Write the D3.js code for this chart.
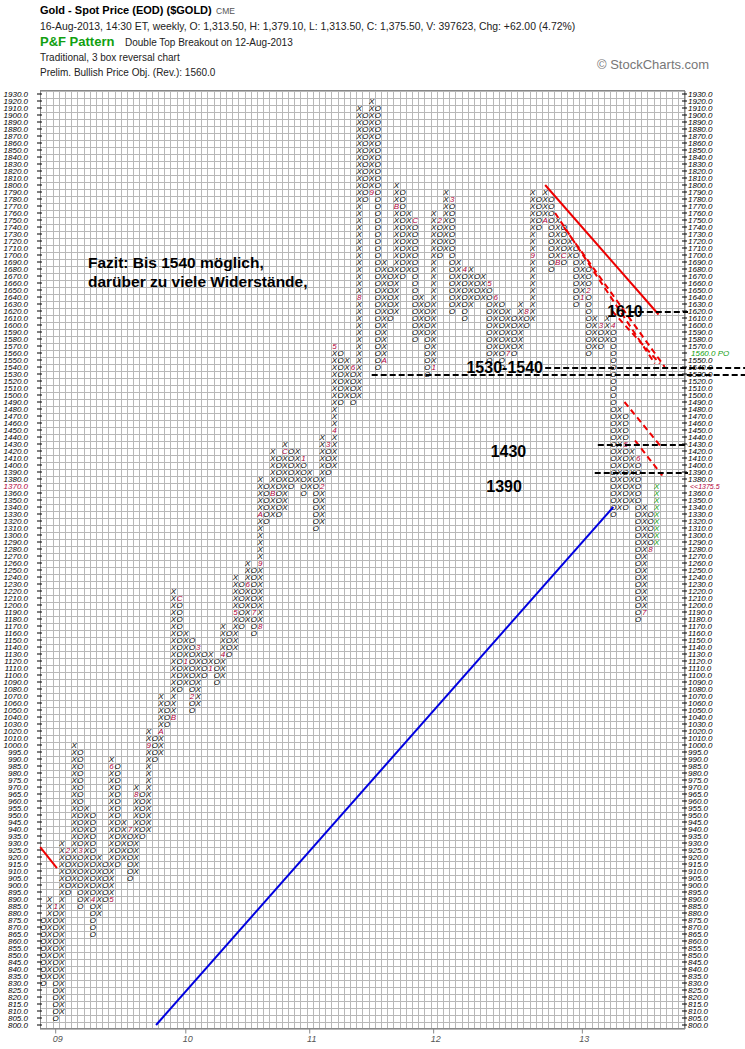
<!DOCTYPE html>
<html><head><meta charset="utf-8">
<script src="https://cdn.jsdelivr.net/npm/d3@7"></script>
<style>body{margin:0;background:#fff}svg{display:block}text{font-family:"Liberation Sans",Arial,sans-serif}</style>
</head><body>
<svg id="c" width="745" height="1049"></svg>
<script>
// ---- data ----
const colType = "OXOXOXOXOXOXOXOXOXOXOXOXOXOXOXOXOXOXOXOXOXOXOXOXOXOXOXOXOXOXOXOXOXOXOXOXOXOXOXOXOXOXOXOXOXOXOXOXOXOX".split("");
const colLow  = [830,835,805,810,895,900,885,890,865,880,890,890,915,920,905,910,935,940,990,995,
                 1030,1040,1080,1090,1050,1060,1100,1110,1090,1100,1130,1140,1170,1180,1160,1170,1320,1330,1330,1340,
                 1370,1380,1360,1370,1310,1320,1390,1400,1490,1500,1490,1500,1780,1790,1540,1550,1610,1620,1670,1680,
                 1580,1590,1530,1540,1700,1710,1620,1630,1610,1630,1640,1640,1550,1560,1540,1560,1560,1570,1600,1610,
                 1740,1750,1680,1690,1690,1700,1630,1640,1560,1570,1570,1580,1330,1340,1340,1350,1180,1190,1280,1290];
const colHigh = [875,890,885,930,925,1000,995,955,950,920,915,990,985,945,940,970,965,1020,1015,1070,
                 1060,1220,1210,1160,1150,1140,1130,1130,1120,1170,1160,1240,1230,1260,1250,1380,1370,1420,1410,1430,
                 1420,1420,1410,1390,1380,1440,1430,1570,1560,1550,1540,1910,1900,1920,1910,1690,1680,1800,1790,1760,
                 1750,1640,1630,1760,1750,1790,1780,1690,1680,1680,1670,1670,1660,1640,1630,1620,1610,1630,1620,1790,
                 1780,1790,1780,1750,1740,1720,1710,1690,1680,1610,1600,1610,1600,1480,1470,1420,1410,1340,1330,1370];
const markCol   = [2,4,6,8,11,11,14,15,17,19,21,22,23,24,25,27,29,31,34,33,35,35,35,37,39,42,45,46,47,47,50,51,53,55,57,60,63,64,66,68,72,73,75,78,79,81,83,84,87,88,90,92,94,96,97,98];
const markPrice = [885,925,925,890,890,985,940,965,1000,1020,1040,1210,1120,1070,1140,1110,1130,1190,1190,1230,1170,1260,1330,1360,1420,1410,1370,1430,1450,1570,1540,1640,1790,1550,1770,1750,1540,1750,1780,1680,1660,1640,1560,1620,1700,1750,1690,1700,1640,1650,1600,1600,1430,1410,1190,1280];
const markText  = ["1","2","3","4","5","6","7","8","9","A","B","C","1","2","3","1","4","5","7","6","8","9","A","B","C","1","2","3","4","5","6","8","9","A","B","C","1","2","3","4","5","6","7","8","9","A","B","C","1","2","3","4","5","6","7","8"];
const yearCols   = [2,23,43,63,87];
const yearLabels = ["09","10","11","12","13"];
const levelPrices = [1620,1540,1530,1430,1390];
const levelLabels = ["1610","1530-1540","1430","1390"];

// ---- scales ----
const rowOf = p => p <= 1000 ? (p - 800) / 5 : 40 + (p - 1000) / 10;
const nRows = 133, nCols = 104;
const y = d3.scaleLinear().domain([0, nRows]).range([1025, 94]);
const x = d3.scaleLinear().domain([0, 99]).range([43.3, 656.7]);
const cw = x(1) - x(0), rh = y(0) - y(1);
const gx0 = x(0) - cw / 2, gx1 = x(nCols - 1) + cw / 2;
const gy0 = y(nRows) - rh / 2, gy1 = y(0) + rh / 2;
const svg = d3.select("#c");
const crimson = "#b0003a", green = "#10a010";

// header
const h = svg.append("g");
h.append("text").attr("x", 40).attr("y", 14).attr("font-size", 11).attr("font-weight", "bold").text("Gold - Spot Price (EOD) ($GOLD)");
h.append("text").attr("x", 216).attr("y", 14).attr("font-size", 8.5).attr("fill", "#555").text("CME");
h.append("text").attr("x", 40).attr("y", 30).attr("font-size", 10.4).attr("fill", "#222").text("16-Aug-2013, 14:30 ET, weekly, O: 1,313.50, H: 1,379.10, L: 1,313.50, C: 1,375.50, V: 397623, Chg: +62.00 (4.72%)");
h.append("text").attr("x", 40).attr("y", 46).attr("font-size", 13).attr("font-weight", "bold").attr("fill", green).text("P&F Pattern");
h.append("text").attr("x", 125).attr("y", 46).attr("font-size", 10).attr("fill", "#222").text("Double Top Breakout on 12-Aug-2013");
h.append("text").attr("x", 40).attr("y", 61).attr("font-size", 10).attr("fill", "#222").text("Traditional, 3 box reversal chart");
h.append("text").attr("x", 40).attr("y", 76).attr("font-size", 10).attr("fill", "#222").text("Prelim. Bullish Price Obj. (Rev.): 1560.0");
h.append("text").attr("x", 597).attr("y", 69).attr("font-size", 13).attr("fill", "#777").text("© StockCharts.com");

// grid
const g = svg.append("g").attr("shape-rendering", "crispEdges");
d3.range(nRows + 2).forEach(i => g.append("line").attr("x1", gx0).attr("x2", gx1)
  .attr("y1", Math.round(y(i) + rh / 2) + 0.5).attr("y2", Math.round(y(i) + rh / 2) + 0.5).attr("stroke", "#b8b8b8"));
d3.range(nCols + 1).forEach(i => g.append("line").attr("y1", gy0).attr("y2", gy1)
  .attr("x1", Math.round(gx0 + i * cw) + 0.5).attr("x2", Math.round(gx0 + i * cw) + 0.5).attr("stroke", "#b8b8b8"));
g.append("rect").attr("x", gx0).attr("y", gy0).attr("width", gx1 - gx0).attr("height", gy1 - gy0).attr("fill", "none").attr("stroke", "#888");

// axis labels
const rowPrices = d3.range(nRows + 1).map(r => r <= 40 ? 800 + r * 5 : 1000 + (r - 40) * 10);
const ax = svg.append("g").attr("font-size", 8).attr("font-style", "italic");
rowPrices.forEach(p => {
  const yy = y(rowOf(p));
  ax.append("text").attr("x", 28).attr("y", yy + 3).attr("text-anchor", "end").attr("fill", p === 1370 ? crimson : "#000").text(p.toFixed(1));
  if (p !== 1560 && p !== 1370) ax.append("text").attr("x", 688).attr("y", yy + 3).text(p.toFixed(1));
  ax.append("line").attr("x1", 37).attr("x2", 42).attr("y1", yy).attr("y2", yy).attr("stroke", "#000");
  ax.append("line").attr("x1", 682).attr("x2", 687).attr("y1", yy).attr("y2", yy).attr("stroke", "#000");
});
ax.append("text").attr("x", 691).attr("y", y(rowOf(1560)) + 3).attr("fill", green).text("1560.0 PO");
ax.append("text").attr("x", 690).attr("y", y(rowOf(1370)) + 2.5).attr("font-size", 7).attr("fill", crimson).text("<<1375.5");

yearCols.forEach((c, i) => {
  svg.append("line").attr("x1", x(c)).attr("x2", x(c)).attr("y1", gy1).attr("y2", gy1 + 5).attr("stroke", "#888");
  svg.append("text").attr("x", x(c) + 2).attr("y", 1042).attr("text-anchor", "middle").attr("font-size", 9)
    .attr("font-style", "italic").attr("fill", "#555").text(yearLabels[i]);
});

// marks
const markKey = new Map(markCol.map((c, i) => [c + "_" + markPrice[i], markText[i]]));
const cells = [];
colType.forEach((t, c) => {
  for (let r = rowOf(colLow[c]); r <= rowOf(colHigh[c]); r++) cells.push({c, r, t});
});
const mk = svg.append("g").attr("font-size", 8).attr("font-style", "italic").attr("text-anchor", "middle");
cells.forEach(d => {
  const p = rowPrices[d.r];
  const m = markKey.get(d.c + "_" + p);
  mk.append("text").attr("x", x(d.c)).attr("y", y(d.r) + 3)
    .attr("fill", m ? crimson : (d.c === colType.length - 1 ? green : "#000"))
    .text(m || d.t);
});

// annotations (drawn in chart coordinates)
const ann = svg.append("g");
const L = (c1, p1, c2, p2, col, w, dash) => ann.append("line").attr("x1", x(c1)).attr("y1", y(rowOf(p1)))
  .attr("x2", x(c2)).attr("y2", y(rowOf(p2))).attr("stroke", col).attr("stroke-width", w).attr("stroke-dasharray", dash || null);
L(-0.5, 927, 2.2, 912, "#e00", 2);
L(18.2, 800, 92, 1340, "#0000e0", 2);
L(81, 1800, 99.3, 1615, "#e00", 2);
L(82.6, 1760, 98.7, 1545, "#e00", 2, "6,4");
L(84, 1740, 100.3, 1540, "#e00", 2, "6,4");
L(91.8, 1620, 99.5, 1545, "#e00", 2, "6,4");
L(93.8, 1490, 99.8, 1425, "#e00", 2, "6,4");
L(95.5, 1435, 99.9, 1385, "#e00", 2, "6,4");
const H = (c1, p, xe) => ann.append("line").attr("x1", x(c1)).attr("x2", xe).attr("y1", y(rowOf(p)) + 1).attr("y2", y(rowOf(p)) + 1)
  .attr("stroke", "#000").attr("stroke-width", 2).attr("stroke-dasharray", "6,3");
H(94.5, levelPrices[0], 688);
H(81, levelPrices[1], 745);
H(53, levelPrices[2], 745);
H(89.5, levelPrices[3], 688);
H(89, levelPrices[4], 688);
const T = (xx, p, s) => ann.append("text").attr("x", xx).attr("y", y(rowOf(p)) + 6).attr("font-size", 16).attr("font-weight", "bold").text(s);
T(x(91), 1620, levelLabels[0]);
T(x(68.3), 1540, levelLabels[1]);
T(x(72.2), 1420, levelLabels[2]);
T(x(71.5), 1370, levelLabels[3]);
svg.append("text").attr("x", 88).attr("y", 268).attr("font-size", 15.5).attr("font-weight", "bold").text("Fazit: Bis 1540 möglich,");
svg.append("text").attr("x", 88).attr("y", 287).attr("font-size", 15.5).attr("font-weight", "bold").text("darüber zu viele Widerstände,");
</script>
</body></html>
